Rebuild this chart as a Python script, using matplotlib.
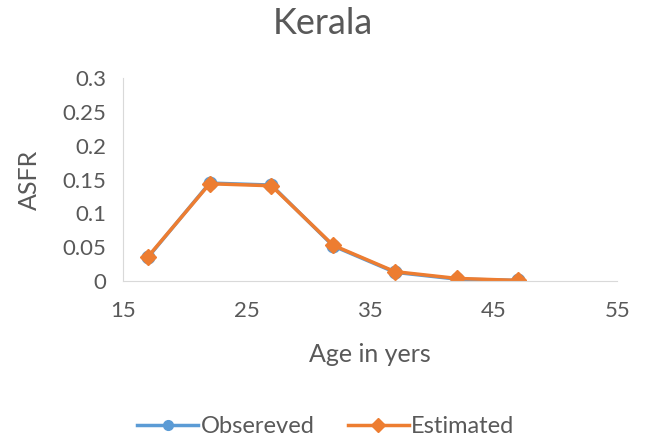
import matplotlib
matplotlib.use('Agg')
import matplotlib.pyplot as plt

plt.rcParams['font.family'] = ['Lato', 'DejaVu Sans']

age = [17, 22, 27, 32, 37, 42, 47]
observed = [0.035, 0.145, 0.142, 0.052, 0.013, 0.003, 0.001]
estimated = [0.036, 0.144, 0.141, 0.053, 0.014, 0.004, 0.001]
xticks = [15, 25, 35, 45, 55]
yticks = [0, 0.05, 0.1, 0.15, 0.2, 0.25, 0.3]
ylabels = ['0', '0.05', '0.1', '0.15', '0.2', '0.25', '0.3']

grey = '#595959'
fig = plt.figure(figsize=(6.45, 4.42), dpi=100)
ax = fig.add_axes([0.191, 0.364, 0.766, 0.459])

ax.plot(age, observed, color='#5b9bd5', lw=2.5, marker='o', ms=9, label='Obsereved')
ax.plot(age, estimated, color='#ed7d31', lw=2.5, marker='D', ms=8, label='Estimated')

ax.set_xlim(15, 55)
ax.set_ylim(0, 0.3)
ax.set_xticks(xticks)
ax.set_yticks(yticks)
ax.set_yticklabels(ylabels)
ax.tick_params(length=0, labelsize=16, colors=grey)
ax.tick_params(axis='x', pad=14)
ax.tick_params(axis='y', pad=12)
for s in ['top', 'right']:
    ax.spines[s].set_visible(False)
for s in ['left', 'bottom']:
    ax.spines[s].set_color('#d9d9d9')
ax.set_xlabel('Age in yers', fontsize=18, color=grey, labelpad=16)
ax.set_ylabel('ASFR', fontsize=18, color=grey, labelpad=16)
fig.suptitle('Kerala', fontsize=26, color=grey, y=0.985)

leg = ax.legend(loc='upper center', bbox_to_anchor=(0.41, -0.56), ncol=2, frameon=False,
                fontsize=17, labelcolor=grey, handlelength=2.6, columnspacing=1.4,
                handletextpad=0.1)
for h in leg.legend_handles:
    h.set_markersize(7)

fig.savefig('out.png', dpi=100, facecolor='white')
